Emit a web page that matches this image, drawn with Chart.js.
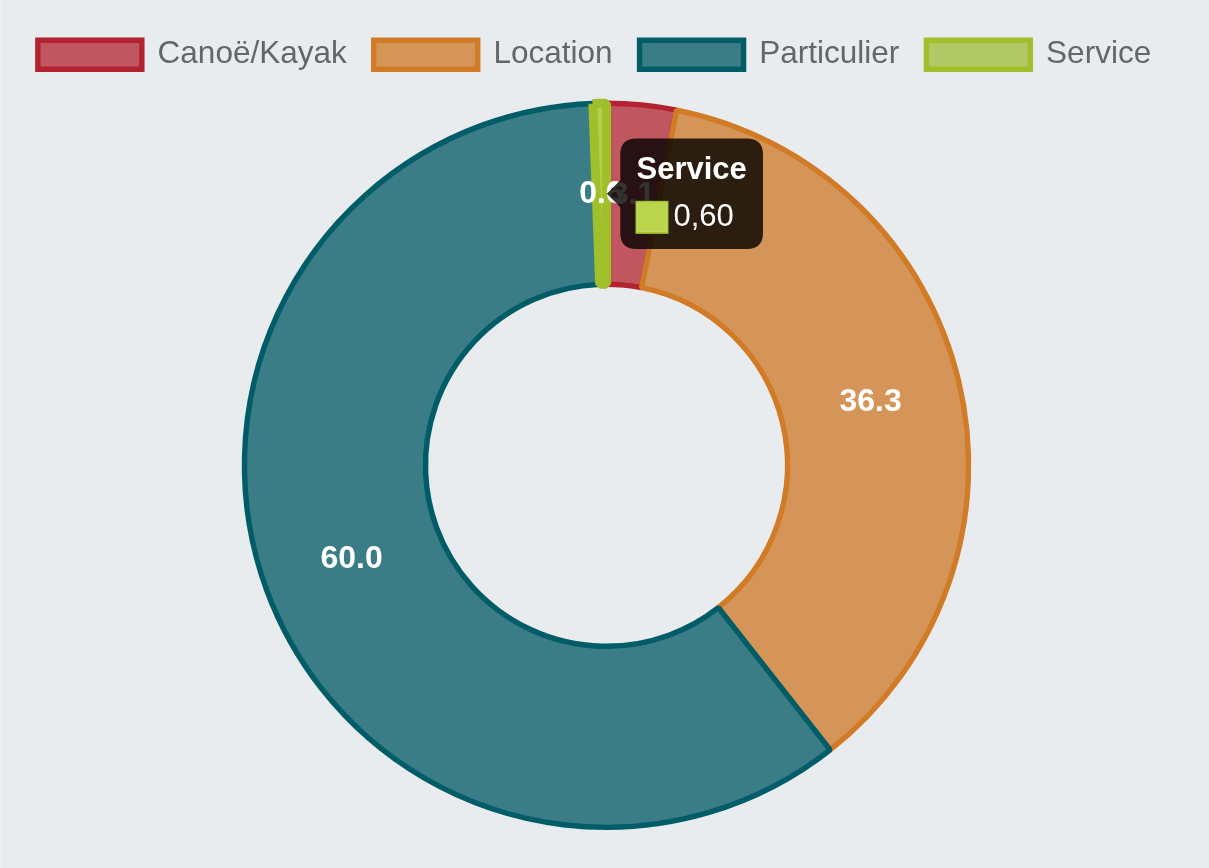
<!DOCTYPE html>
<html>
<head>
<meta charset="utf-8">
<script src="https://cdn.jsdelivr.net/npm/chart.js@4/dist/chart.umd.min.js"></script>
<style>
  html, body { margin: 0; padding: 0; background: #e9ecef; }
  #wrap { position: relative; width: 1208px; height: 868px; border-left: 1px solid #eff1f3; }
</style>
</head>
<body>
<div id="wrap"><canvas id="c"></canvas></div>
<script>
const categories = ['Canoë/Kayak', 'Location', 'Particulier', 'Service'];
const values = [3.1, 36.3, 60.0, 0.6];
const fillColors = ['#c0565f', '#d69558', '#3a7d86', '#b2c866'];
const borderColors = ['#b2222f', '#d27b26', '#005c66', '#9fbf2b'];
const hoverFillColors = ['#c0565f', '#d69558', '#3a7d86', '#b6d04e'];
const activeIndex = 3;

const S = 2.7;
const FONT = "'Helvetica Neue', Helvetica, Arial, 'Liberation Sans', sans-serif";

const valueLabels = {
  id: 'valueLabels',
  afterDatasetsDraw(chart) {
    const ctx = chart.ctx;
    const meta = chart.getDatasetMeta(0);
    ctx.save();
    ctx.font = 'bold ' + Math.round(12 * S) + 'px ' + FONT;
    ctx.fillStyle = '#ffffff';
    ctx.textAlign = 'center';
    ctx.textBaseline = 'middle';
    meta.data.forEach((arc, i) => {
      const p = arc.tooltipPosition();
      ctx.fillText(values[i].toFixed(1), p.x, p.y);
    });
    ctx.restore();
  }
};

const legendSpacing = {
  id: 'legendSpacing',
  beforeLayout(chart) {
    const lg = chart.legend;
    if (lg && !lg._patched) {
      const orig = lg.fit;
      lg.fit = function () {
        orig.call(this);
        this.height += 20;
        if (this.lineWidths && this.lineWidths.length) this.lineWidths[0] += 24;
      };
      lg._patched = true;
    }
  }
};

const chart = new Chart(document.getElementById('c'), {
  type: 'doughnut',
  data: {
    labels: categories,
    datasets: [{
      data: values,
      backgroundColor: fillColors,
      borderColor: borderColors,
      hoverBackgroundColor: hoverFillColors,
      hoverBorderColor: borderColors,
      borderWidth: 2 * S,
      hoverBorderWidth: 9,
      hoverOffset: 0
    }]
  },
  options: {
    responsive: true,
    maintainAspectRatio: false,
    animation: false,
    cutout: '50%',
    layout: { padding: { top: 12, bottom: 38, left: 3 } },
    events: [],
    plugins: {
      legend: {
        position: 'top',
        labels: {
          color: '#666',
          font: { size: 31.5, family: FONT },
          boxWidth: 104,
          boxHeight: 29,
          padding: 27
        }
      },
      tooltip: {
        enabled: true,
        xAlign: 'left',
        yAlign: 'center',
        backgroundColor: 'rgba(0,0,0,0.8)',
        titleFont: { size: 31, weight: 'bold', family: FONT, lineHeight: 1 },
        bodyFont: { size: 31, family: FONT, lineHeight: 1 },
        padding: 6 * S,
        caretSize: 5 * S,
        caretPadding: 2 * S,
        cornerRadius: 6 * S,
        titleMarginBottom: 6 * S,
        boxWidth: 31,
        boxHeight: 31,
        boxPadding: 4,
        callbacks: {
          title: (items) => items[0].label,
          label: (ctx) => ctx.parsed.toLocaleString('fr-FR', { minimumFractionDigits: 2, maximumFractionDigits: 2 }),
          labelColor: (ctx) => ({
            borderColor: '#a4c62a',
            backgroundColor: '#b9d54c',
            borderWidth: 2
          })
        }
      }
    }
  },
  plugins: [valueLabels, legendSpacing]
});

chart.setActiveElements([{ datasetIndex: 0, index: activeIndex }]);
chart.tooltip.setActiveElements([{ datasetIndex: 0, index: activeIndex }], { x: 0, y: 0 });
chart.update();
</script>
</body>
</html>
